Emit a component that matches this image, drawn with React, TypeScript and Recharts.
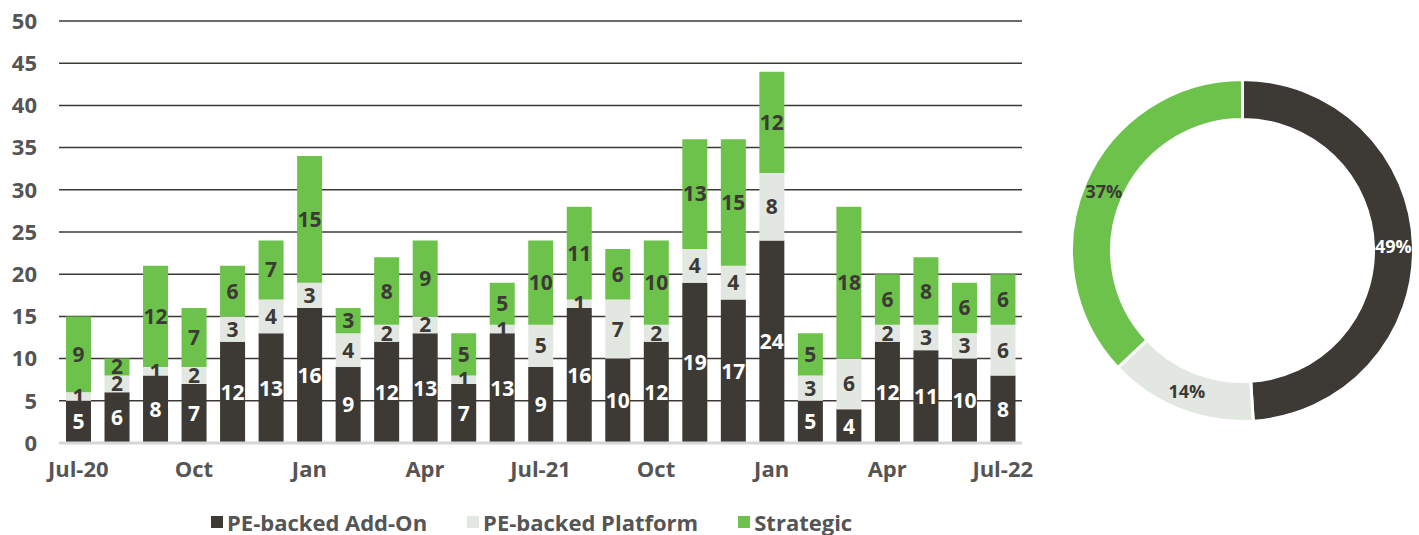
import React from 'react';
import { BarChart, Bar, XAxis, YAxis, CartesianGrid, LabelList, PieChart, Pie, Cell } from 'recharts';

// monthly deal counts, Jul-20 .. Jul-22
const months = ['Jul-20', 'Aug', 'Sep', 'Oct', 'Nov', 'Dec', 'Jan', 'Feb', 'Mar', 'Apr', 'May', 'Jun',
    'Jul-21', 'Aug', 'Sep', 'Oct', 'Nov', 'Dec', 'Jan', 'Feb', 'Mar', 'Apr', 'May', 'Jun', 'Jul-22'];
const addOn = [5, 6, 8, 7, 12, 13, 16, 9, 12, 13, 7, 13, 9, 16, 10, 12, 19, 17, 24, 5, 4, 12, 11, 10, 8];
const platform = [1, 2, 1, 2, 3, 4, 3, 4, 2, 2, 1, 1, 5, 1, 7, 2, 4, 4, 8, 3, 6, 2, 3, 3, 6];
const strategic = [9, 2, 12, 7, 6, 7, 15, 3, 8, 9, 5, 5, 10, 11, 6, 10, 13, 15, 12, 5, 18, 6, 8, 6, 6];
const yTicks = [0, 5, 10, 15, 20, 25, 30, 35, 40, 45, 50];

// share of total
const shareNames = ['PE-backed Add-On', 'PE-backed Platform', 'Strategic'];
const shareValues = [49, 14, 37];

const DARK = '#3d3a35';
const LIGHT = '#e2e7e1';
const GREEN = '#6cc24a';
const TEXT = '#555555';
const COLORS = [DARK, LIGHT, GREEN];

const barData = months.map((m, i) => ({
    month: m,
    addOn: addOn[i],
    platform: platform[i],
    strategic: strategic[i],
}));

const pieData = shareNames.map((name, i) => ({ name, value: shareValues[i] }));

const RADIAN = Math.PI / 180;

const renderPieLabel = (props: any) => {
    const { cx, cy, midAngle, innerRadius, outerRadius, index, percent } = props;
    const r = (innerRadius + outerRadius) / 2;
    const x = cx + r * Math.cos(-midAngle * RADIAN);
    const y = cy + r * Math.sin(-midAngle * RADIAN);
    return (
        <text x={x} y={y} fill={index === 0 ? '#ffffff' : DARK} textAnchor="middle" dominantBaseline="central"
            fontSize={18} fontWeight={700}>
            {`${Math.round(percent * 100)}%`}
        </text>
    );
};

export default function App() {
    const labelStyle = { fontSize: 21, fontWeight: 700 };
    return (
        <div style={{ position: 'absolute', left: 0, top: 0, width: 1419, height: 535, background: '#fff', fontFamily: '"Open Sans", sans-serif' }}>
            <div style={{ position: 'absolute', left: 0, top: 0 }}>
                <BarChart width={1040} height={535} data={barData} barSize={25}
                    margin={{ top: 21, right: 18, bottom: 62, left: 0 }}>
                    <CartesianGrid vertical={false} stroke={DARK} strokeWidth={1.5} />
                    <XAxis dataKey="month" interval={2} tickSize={0} tickMargin={18} height={30}
                        axisLine={{ stroke: '#d6d6d6', strokeWidth: 3 }}
                        tick={{ fill: TEXT, fontSize: 22, fontWeight: 700 }} />
                    <YAxis domain={[0, 50]} ticks={yTicks} width={59} tickSize={0} tickMargin={22}
                        axisLine={false} tickLine={false}
                        tick={{ fill: TEXT, fontSize: 22, fontWeight: 700, textAnchor: 'end' }} />
                    <Bar dataKey="addOn" stackId="a" fill={DARK} isAnimationActive={false}>
                        <LabelList dataKey="addOn" position="center" fill="#ffffff" style={labelStyle} />
                    </Bar>
                    <Bar dataKey="platform" stackId="a" fill={LIGHT} isAnimationActive={false}>
                        <LabelList dataKey="platform" position="center" fill={DARK} style={labelStyle} />
                    </Bar>
                    <Bar dataKey="strategic" stackId="a" fill={GREEN} isAnimationActive={false}>
                        <LabelList dataKey="strategic" position="center" fill={DARK} style={labelStyle} />
                    </Bar>
                </BarChart>
            </div>
            {/* legend */}
            <div style={{ position: 'absolute', left: 211, top: 511, display: 'flex', alignItems: 'center', gap: 40, fontSize: 22, fontWeight: 700, color: TEXT, lineHeight: '22px', whiteSpace: 'nowrap' }}>
                {shareNames.map((name, i) => (
                    <div key={name} style={{ display: 'flex', alignItems: 'center', gap: 4 }}>
                        <span style={{ width: 12, height: 12, background: COLORS[i], display: 'inline-block' }} />
                        <span>{name}</span>
                    </div>
                ))}
            </div>
            <div style={{ position: 'absolute', left: 1040, top: 0 }}>
                <PieChart width={379} height={535}>
                    <Pie data={pieData} dataKey="value" cx={197.5} cy={245.5} innerRadius={131} outerRadius={171}
                        startAngle={90} endAngle={-270} stroke="#ffffff" strokeWidth={3}
                        label={renderPieLabel} labelLine={false} isAnimationActive={false}>
                        {pieData.map((_, i) => (
                            <Cell key={`cell-${i}`} fill={COLORS[i]} />
                        ))}
                    </Pie>
                </PieChart>
            </div>
        </div>
    );
}
